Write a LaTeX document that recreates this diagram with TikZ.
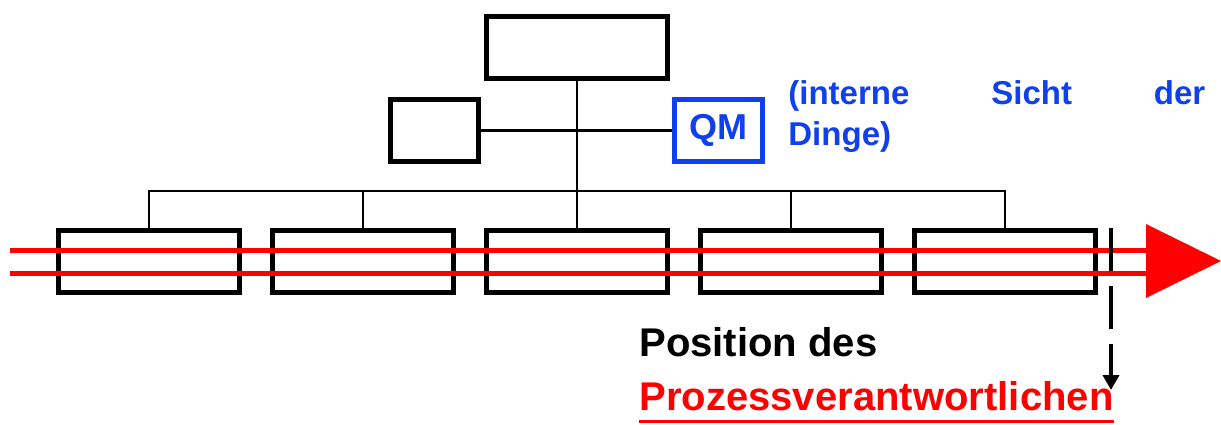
\documentclass[tikz,border=0pt]{standalone}
\usepackage{fontspec}
\setmainfont{Liberation Sans}
\usepackage{tikz}
\usepackage{color}
\usetikzlibrary{calc}
\usetikzlibrary{arrows.meta}
\definecolor{qmblue}{RGB}{16,64,236}

\begin{document}
\begin{tikzpicture}[x=0.02cm,y=-0.02cm,thin,
box/.style={draw,line width=0.1cm,minimum width=3.62cm,minimum height=1.24cm,inner sep=0pt},
smallbox/.style={box,minimum width=1.76cm},
link/.style={line width=0.05cm},
flow/.style={red,line width=0.1cm},
label/.style={inner sep=0pt,anchor=base west,font=\fontsize{22.8}{27}\selectfont\bfseries}]
\useasboundingbox (0,0) rectangle (1221,424);
\node[box] (top) at (577,47.5) {};
\node[smallbox] (left) at (434.5,130.5) {};
\node[smallbox,qmblue,font=\fontsize{20.5}{24}\selectfont\bfseries] (qm) at (718.5,130.5) {QM};
\foreach \x [count=\i] in {149,363,577,791,1005}
\node[box] (b\i) at (\x,261.5) {};
\coordinate (bus) at (0,191);
\draw[link] (top) -- (b3);
\draw[link] (left) -- (qm);
\draw[link] (b1.north) -- (b1.north |- bus) -- (b5.north |- bus) -- (b5.north);
\foreach \i in {2,4}
\draw[link] (b\i.north) -- (b\i.north |- bus);
% process flow
\coordinate (in1) at (10,250);
\coordinate (in2) at (10,273);
\coordinate (out1) at (1146,250);
\coordinate (out2) at (1146,273);
\draw[flow] (in1) -- (out1);
\draw[flow] (in2) -- (out2);
\fill[red] (1146,224) -- (1221,261) -- (1146,298) -- cycle;
\coordinate (pos) at (1111,228);
\coordinate (posend) at (1111,390);
\draw[line width=0.08cm,dash pattern=on 0.86cm off 0.3cm,-{Triangle[length=0.3cm,width=0.32cm]}] (pos) -- (posend);
\node[label,qmblue,font=\fontsize{18.8}{23.9}\selectfont\bfseries,text width=8.34cm,align=left] (sicht) at (788,104) {(interne\hfill Sicht\hfill der\\Dinge)};
\node[label] (posdes) at (639,356) {Position des};
\node[label,red] (proz) at (639,410) {Prozessverantwortlichen};
\draw[red,line width=0.06cm] ($(proz.base west)+(0,11)$) -- ($(proz.base east)+(0,11)$);
\end{tikzpicture}
\end{document}
